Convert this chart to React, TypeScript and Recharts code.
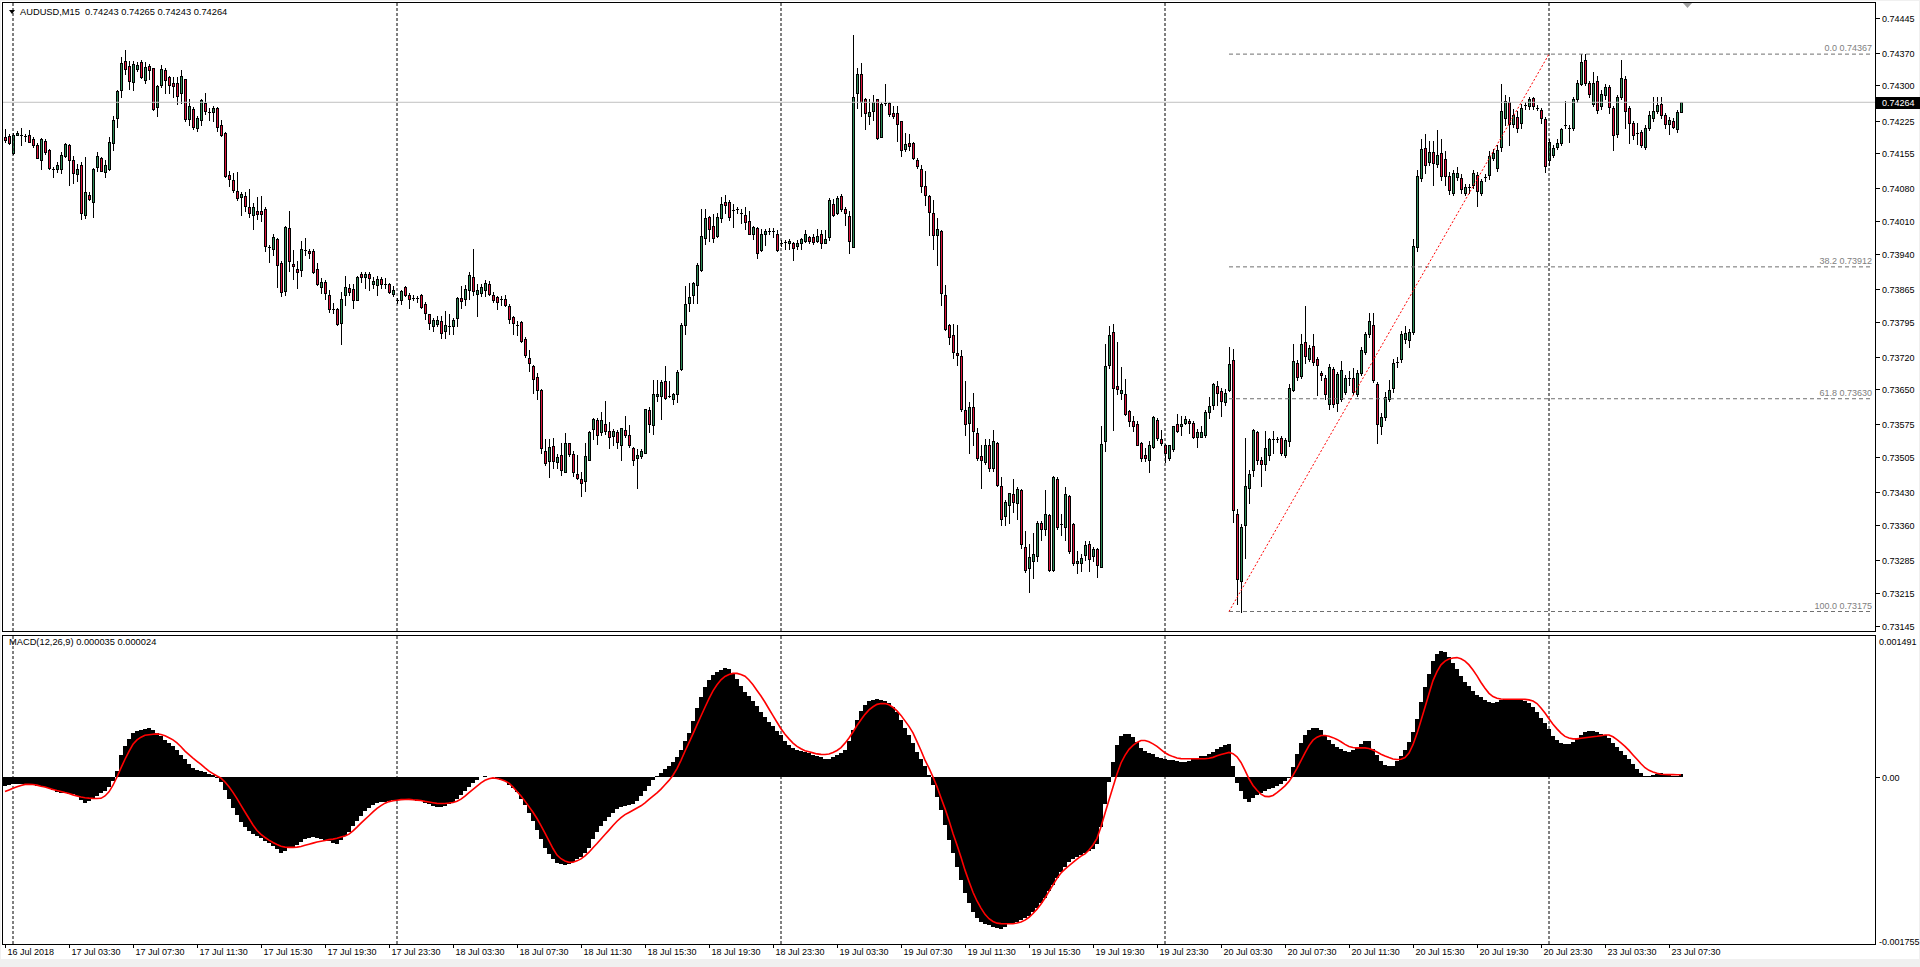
import React from 'react';
import { ComposedChart, Bar, Line, XAxis, YAxis, ReferenceLine } from 'recharts';

// ---------- DATA (prices in points of 0.00001, MACD in units of 0.000001) ----------
const OPEN = [
74190,74192,74156,74194,74194,74192,74193,74186,74172,74141,74182,74163,74121,74121,74122,74149,74172,74140,74110,74129,
74023,74065,74051,74125,74144,74115,74122,74176,74231,74291,74352,74342,74307,74335,74350,74312,74341,74337,74253,74301,
74332,74317,74305,74305,74284,74313,74229,74250,74209,74226,74263,74244,74243,74252,74215,74199,74108,74098,74075,74062,
74064,74040,74023,74032,74032,74036,73955,73951,73972,73921,73861,73996,73919,73908,73906,73948,73946,73946,73908,73869,
73879,73851,73821,73822,73791,73851,73867,73864,73842,73896,73890,73896,73875,73874,73885,73876,73875,73855,73842,73841,
73870,73852,73844,73846,73852,73833,73811,73785,73789,73797,73775,73785,73785,73802,73845,73844,73862,73890,73854,73857,
73863,73875,73852,73847,73842,73843,73829,73805,73788,73795,73757,73718,73701,73676,73648,73518,73497,73528,73494,73509,
73474,73535,73512,73468,73458,73454,73500,73566,73585,73558,73577,73562,73550,73558,73531,73563,73552,73525,73503,73507,
73515,73605,73574,73636,73636,73669,73634,73630,73640,73693,73787,73834,73851,73874,73906,73973,74018,74000,73978,74016,
74050,74050,74031,74035,74028,74023,74010,73983,73996,73949,73982,73988,73988,73983,73964,73966,73962,73962,73957,73964,
73967,73976,73976,73968,73983,73964,73975,74047,74027,74064,74035,74021,73955,74283,74324,74272,74234,74245,74271,74190,
74261,74262,74241,74240,74223,74165,74176,74176,74140,74122,74086,74064,74027,73980,73988,73851,73787,73767,73728,73721,
73605,73579,73612,73556,73507,73495,73530,73482,73536,73443,73380,73402,73427,73407,73435,73312,73268,73284,73294,73365,
73351,73382,73263,73459,73359,73355,73421,73363,73278,73278,73296,73320,73294,73309,73271,73540,73702,73773,73658,73642,
73640,73604,73582,73577,73536,73509,73500,73527,73585,73544,73530,73503,73522,73575,73572,73579,73582,73579,73548,73549,
73552,73601,73617,73658,73646,73622,73648,73713,73383,73240,73360,73440,73477,73559,73500,73490,73510,73541,73543,73545,
73510,73539,73649,73706,73678,73751,73716,73743,73716,73684,73675,73618,73693,73620,73629,73645,73673,73675,73641,73686,
73731,73768,73787,73661,73571,73592,73629,73653,73706,73714,73757,73755,73772,73954,74101,74166,74136,74158,74132,74155,
74142,74107,74070,74104,74101,74071,74083,74087,74108,74071,74101,74109,74144,74124,74169,74230,74265,74218,74232,74220,
74256,74255,74273,74252,74247,74229,74140,74152,74169,74177,74214,74208,74210,74271,74304,74355,74306,74261,74310,74256,
74279,74296,74251,74197,74275,74314,74251,74220,74197,74201,74169,74210,74230,74245,74261,74237,74218,74225,74207,74243];

const HIGH = [
74207,74196,74199,74203,74208,74196,74204,74190,74176,74188,74185,74165,74125,74137,74158,74176,74174,74149,74131,74136,
74147,74072,74124,74158,74148,74141,74190,74235,74290,74360,74376,74352,74352,74350,74354,74350,74346,74338,74300,74343,
74338,74321,74317,74317,74334,74314,74272,74253,74235,74272,74283,74252,74256,74253,74227,74200,74117,74113,74114,74073,
74073,74078,74049,74062,74064,74041,73959,73982,73974,73924,74000,74032,73949,73924,73967,73973,73951,73951,73920,73888,
73883,73863,73834,73823,73859,73892,73875,73875,73892,73900,73901,73900,73890,73892,73890,73888,73877,73871,73845,73863,
73872,73857,73852,73849,73854,73836,73812,73803,73806,73808,73818,73811,73802,73847,73871,73873,73900,73951,73875,73875,
73883,73881,73859,73849,73849,73851,73833,73808,73797,73796,73761,73734,73702,73685,73650,73544,73544,73546,73511,73536,
73556,73536,73519,73509,73473,73536,73560,73589,73589,73601,73626,73581,73566,73564,73568,73593,73574,73527,73523,73523,
73608,73613,73671,73671,73671,73700,73667,73642,73691,73793,73871,73877,73879,73920,74035,74035,74021,74024,74027,74062,
74065,74055,74047,74039,74035,74041,74031,74000,73998,73994,73994,73996,73996,73990,73969,73969,73972,73965,73969,73973,
73990,73978,73982,73994,73990,73991,74059,74057,74064,74068,74039,74031,74407,74338,74348,74273,74272,74280,74272,74264,
74303,74264,74256,74255,74224,74199,74196,74178,74144,74129,74116,74065,74055,74016,73990,73873,73789,73789,73787,73734,
73667,73623,73642,73568,73532,73544,73544,73563,73537,73462,73413,73429,73459,73441,73436,73347,73320,73343,73368,73368,
73435,73384,73464,73462,73384,73441,73425,73364,73304,73298,73325,73325,73312,73310,73571,73748,73785,73789,73752,73697,
73672,73605,73593,73582,73538,73525,73540,73593,73589,73564,73533,73531,73572,73597,73593,73593,73587,73582,73566,73571,
73605,73634,73664,73667,73654,73650,73740,73737,73395,73363,73547,73477,73565,73561,73506,73561,73547,73561,73548,73550,
73547,73661,73747,73712,73768,73829,73745,73769,73720,73690,73680,73705,73698,73688,73710,73680,73690,73695,73692,73740,
73772,73813,73813,73665,73600,73645,73670,73715,73720,73775,73785,73780,73972,74120,74185,74197,74181,74181,74204,74185,
74160,74115,74120,74125,74110,74090,74090,74120,74115,74100,74110,74160,74165,74173,74304,74279,74275,74250,74245,74260,
74265,74275,74275,74258,74252,74232,74185,74172,74185,74210,74267,74215,74276,74312,74367,74367,74310,74328,74320,74290,
74303,74300,74255,74280,74355,74320,74255,74225,74220,74205,74215,74245,74275,74275,74275,74240,74232,74230,74248,74265];

const LOW = [
74180,74174,74154,74193,74172,74182,74178,74168,74144,74121,74154,74121,74104,74114,74113,74147,74088,74092,74096,74014,
74016,74055,74018,74117,74116,74104,74120,74162,74211,74276,74325,74293,74291,74330,74316,74305,74313,74248,74235,74297,
74283,74283,74276,74260,74262,74223,74215,74207,74203,74215,74239,74226,74223,74203,74192,74105,74086,74073,74055,74023,
74031,74018,73994,74014,74010,73945,73923,73937,73870,73849,73852,73904,73885,73867,73893,73937,73931,73898,73874,73857,
73844,73816,73814,73788,73748,73830,73851,73825,73841,73879,73867,73863,73867,73852,73867,73867,73857,73849,73834,73833,
73849,73825,73841,73836,73825,73800,73780,73775,73785,73759,73759,73769,73769,73785,73825,73830,73844,73851,73808,73849,
73849,73852,73836,73822,73830,73828,73793,73769,73767,73751,73720,73689,73642,73630,73515,73489,73462,73482,73482,73466,
73473,73507,73464,73459,73423,73433,73499,73544,73533,73552,73554,73525,73530,73525,73499,73548,73527,73489,73440,73503,
73513,73558,73554,73626,73586,73630,73633,73618,73623,73691,73769,73818,73834,73834,73904,73961,73967,73965,73975,74008,
74028,74013,73998,74027,74006,73994,73982,73972,73931,73947,73959,73982,73975,73947,73957,73951,73951,73927,73951,73951,
73965,73964,73960,73965,73952,73963,73969,74021,74024,74031,74002,73942,73954,74252,74235,74207,74217,74227,74185,74189,
74258,74235,74231,74182,74149,74160,74162,74143,74124,74072,74045,73980,73951,73916,73830,73777,73748,73718,73703,73604,
73552,73513,73532,73500,73440,73491,73476,73476,73443,73360,73361,73364,73388,73372,73310,73260,73216,73247,73284,73327,
73339,73261,73261,73351,73339,73327,73301,73274,73257,73261,73286,73261,73282,73249,73270,73519,73695,73564,73640,73630,
73596,73571,73560,73530,73497,73497,73473,73525,73542,73532,73495,73500,73519,73558,73552,73577,73556,73546,73527,73548,
73548,73589,73609,73617,73593,73617,73646,73367,73191,73175,73289,73408,73465,73490,73444,73477,73498,73514,73538,73510,
73505,73528,73647,73670,73675,73706,73710,73702,73637,73670,73630,73608,73612,73604,73625,73640,73660,73640,73636,73680,
73725,73762,73665,73536,73555,73585,73625,73645,73698,73708,73750,73740,73768,73945,74095,74112,74130,74087,74125,74098,
74088,74068,74065,74098,74070,74065,74070,74080,74042,74065,74095,74100,74140,74118,74160,74215,74173,74212,74200,74210,
74250,74250,74250,74248,74220,74114,74130,74148,74165,74172,74210,74180,74205,74265,74300,74300,74275,74255,74240,74250,
74272,74242,74163,74190,74270,74210,74177,74185,74175,74168,74165,74205,74225,74240,74230,74210,74196,74208,74200,74243];

const CLOSE = [
74184,74176,74194,74199,74191,74191,74180,74172,74145,74185,74158,74124,74119,74129,74152,74174,74140,74113,74122,74027,
74072,74058,74122,74149,74118,74129,74178,74226,74288,74348,74335,74309,74346,74343,74319,74339,74334,74249,74299,74336,
74311,74301,74299,74278,74320,74229,74255,74212,74230,74268,74245,74240,74252,74212,74193,74106,74100,74077,74059,74068,
74043,74027,74039,74024,74024,73957,73953,73975,73916,73859,73998,73924,73913,73901,73951,73946,73942,73902,73875,73879,
73856,73822,73820,73789,73844,73870,73859,73841,73890,73890,73896,73888,73882,73887,73875,73875,73859,73863,73839,73861,
73852,73844,73846,73843,73826,73813,73791,73799,73798,73770,73787,73783,73798,73845,73838,73865,73895,73861,73862,73869,
73877,73854,73841,73836,73843,73830,73800,73793,73787,73754,73724,73707,73672,73648,73525,73492,73527,73497,73505,73478,
73536,73511,73474,73461,73450,73507,73558,73587,73552,73585,73560,73548,73560,73538,73567,73552,73530,73499,73509,73519,
73607,73577,73640,73640,73666,73631,73636,73640,73687,73787,73832,73847,73877,73916,73978,74016,73994,73973,74018,74047,
74045,74018,74033,74036,74027,74008,73983,73998,73941,73982,73989,73989,73987,73949,73964,73965,73967,73953,73962,73971,
73982,73967,73965,73978,73964,73972,74054,74023,74059,74035,74027,73967,74275,74324,74264,74242,74244,74264,74188,74260,
74263,74239,74234,74217,74162,74174,74170,74144,74127,74086,74065,74029,73980,73994,73857,73779,73761,73731,73723,73607,
73576,73613,73560,73503,73500,73530,73482,73540,73446,73372,73409,73428,73410,73437,73319,73263,73291,73299,73365,73351,
73384,73263,73462,73355,73363,73427,73304,73278,73283,73290,73317,73288,73309,73274,73533,73699,73767,73653,73650,73648,
73597,73582,73571,73532,73503,73503,73532,73590,73546,73536,73515,73530,73571,73560,73577,73587,73579,73549,73558,73558,
73601,73615,73661,73642,73626,73642,73705,73391,73244,73356,73444,73469,73563,73498,73490,73525,73543,73543,73544,73514,
73541,73652,73710,73676,73746,73721,73738,73708,73702,73680,73641,73697,73618,73682,73692,73675,73674,73645,73686,73735,
73768,73796,73670,73577,73592,73634,73649,73706,73708,73768,73770,73772,73956,74107,74165,74130,74157,74134,74152,74106,
74107,74076,74112,74112,74079,74083,74083,74112,74075,74095,74104,74150,74155,74163,74245,74267,74218,74237,74210,74251,
74259,74270,74255,74251,74230,74128,74180,74166,74177,74206,74216,74208,74271,74306,74351,74306,74281,74306,74248,74281,
74297,74253,74193,74275,74316,74245,74220,74193,74198,74173,74210,74237,74245,74259,74237,74218,74226,74212,74243,74264];

const MACD_MAIN = [
-99,-85,-71,-71,-71,-72,-77,-83,-91,-97,-103,-114,-142,-156,-166,-176,-178,-184,-207,-248,
-278,-255,-228,-200,-176,-147,-108,-39,66,239,333,408,468,491,506,517,523,502,470,434,
400,363,328,284,236,189,142,101,77,62,49,32,17,-7,-58,-142,-239,-333,-408,-478,
-536,-577,-610,-633,-657,-681,-704,-736,-774,-814,-793,-760,-749,-728,-700,-665,-648,-642,-654,-662,
-672,-688,-710,-717,-678,-636,-588,-529,-470,-413,-366,-328,-297,-281,-271,-263,-252,-245,-241,-241,
-241,-242,-248,-252,-260,-274,-290,-305,-317,-320,-314,-290,-266,-236,-189,-151,-111,-64,-27,1,
6,4,-3,-15,-27,-46,-81,-115,-161,-232,-302,-380,-474,-568,-665,-758,-826,-881,-920,-935,
-938,-926,-906,-882,-858,-817,-755,-662,-586,-519,-473,-427,-381,-345,-325,-311,-304,-284,-253,-206,
-151,-91,-32,9,46,81,116,158,217,293,381,474,604,742,860,959,1042,1089,1122,1147,
1161,1150,1117,1046,976,910,863,817,762,692,640,591,544,497,446,387,347,314,290,275,
263,252,240,227,210,196,190,209,231,259,294,382,499,611,701,773,809,826,831,820,
808,790,754,693,613,520,444,365,272,195,116,23,-89,-216,-357,-515,-677,-818,-958,-1103,
-1244,-1349,-1439,-1510,-1548,-1573,-1588,-1604,-1619,-1630,-1606,-1577,-1565,-1548,-1530,-1513,-1482,-1442,-1396,-1350,
-1295,-1224,-1153,-1081,-1011,-958,-913,-878,-852,-830,-814,-796,-768,-721,-532,-291,-57,160,345,440,
465,461,433,373,310,275,258,243,219,204,193,187,178,168,162,165,174,191,208,222,
229,249,272,296,320,340,352,120,-60,-150,-231,-271,-224,-196,-172,-148,-133,-118,-95,-71,
-46,-8,107,245,363,444,502,521,520,499,440,391,349,326,302,281,269,293,326,349,
381,386,302,231,168,133,116,120,167,222,288,371,480,619,807,958,1103,1244,1317,1352,
1335,1287,1224,1153,1083,1016,970,924,882,858,826,797,790,803,820,831,834,834,834,826,
811,787,746,694,635,576,513,443,400,368,352,355,374,416,452,482,494,488,476,465,
444,413,366,320,274,239,196,144,85,45,16,9,18,31,41,36,24,10,10,35];

const MACD_SIGNAL = [
-156,-138,-120,-105,-90,-79,-79,-80,-87,-98,-106,-120,-133,-145,-155,-166,-176,-191,-203,-214,
-222,-226,-229,-230,-228,-203,-159,-88,0,97,190,275,350,397,426,446,452,458,461,455,
440,420,397,364,324,277,240,203,168,134,97,62,36,11,-12,-53,-105,-164,-231,-303,
-374,-444,-513,-572,-613,-647,-675,-700,-722,-741,-750,-753,-753,-750,-743,-731,-719,-707,-695,-687,
-680,-670,-664,-656,-642,-630,-611,-576,-536,-493,-454,-414,-373,-336,-306,-280,-263,-254,-248,-242,
-240,-239,-244,-247,-252,-261,-268,-275,-282,-284,-283,-278,-272,-260,-237,-205,-168,-133,-98,-63,
-35,-18,-9,-16,-27,-42,-65,-107,-155,-202,-258,-318,-377,-444,-519,-601,-684,-765,-835,-874,
-899,-913,-911,-897,-876,-844,-804,-757,-711,-662,-615,-568,-519,-473,-435,-402,-379,-355,-331,-308,
-276,-239,-204,-169,-129,-82,-36,19,90,178,275,368,462,558,652,746,839,921,986,1040,
1075,1096,1108,1108,1096,1078,1038,986,925,866,799,727,656,586,516,458,408,363,328,302,
281,269,258,247,242,241,246,262,284,315,362,417,481,551,613,670,717,751,777,786,
785,773,745,707,659,600,542,472,378,284,181,94,0,-103,-221,-338,-464,-605,-728,-857,
-996,-1118,-1233,-1326,-1402,-1469,-1516,-1545,-1563,-1568,-1569,-1569,-1569,-1562,-1550,-1531,-1500,-1460,-1413,-1358,
-1294,-1224,-1153,-1084,-1026,-985,-949,-914,-878,-846,-823,-781,-727,-656,-532,-388,-247,-107,32,150,
231,296,338,370,391,391,377,354,327,293,259,236,218,204,197,195,195,195,195,195,
195,200,210,227,240,252,263,249,215,156,71,-19,-90,-142,-184,-207,-210,-198,-167,-133,
-95,-47,18,93,175,258,336,394,426,444,444,435,421,402,377,349,326,316,312,312,
311,305,288,267,244,225,208,193,187,190,208,255,346,464,605,746,890,1031,1127,1200,
1240,1261,1272,1277,1264,1239,1199,1145,1081,1011,950,895,860,843,834,831,831,831,831,831,
830,825,812,786,739,684,623,564,515,470,434,417,408,408,414,420,425,430,435,442,
449,449,430,400,364,328,285,236,189,142,99,71,54,40,30,26,25,25,24,24];

const TIME_LABELS = [
'16 Jul 2018','17 Jul 03:30','17 Jul 07:30','17 Jul 11:30','17 Jul 15:30','17 Jul 19:30','17 Jul 23:30',
'18 Jul 03:30','18 Jul 07:30','18 Jul 11:30','18 Jul 15:30','18 Jul 19:30','18 Jul 23:30',
'19 Jul 03:30','19 Jul 07:30','19 Jul 11:30','19 Jul 15:30','19 Jul 19:30','19 Jul 23:30',
'20 Jul 03:30','20 Jul 07:30','20 Jul 11:30','20 Jul 15:30','20 Jul 19:30','20 Jul 23:30',
'23 Jul 03:30','23 Jul 07:30'];
const TIME_LABEL_STEP = 16;

const PRICE_TICKS = [0.74445,0.74370,0.74300,0.74225,0.74155,0.74080,0.74010,0.73940,0.73865,0.73795,
  0.73720,0.73650,0.73575,0.73505,0.73430,0.73360,0.73285,0.73215,0.73145];
const LAST_PRICE = 0.74264;
const PRICE_DOMAIN = [0.731333, 0.744763];

const FIB_PERCENTS = ['0.0','38.2','61.8','100.0'];
const FIB_PRICES = [0.74367, 0.73912, 0.73630, 0.73175];
const FIB_START_BAR = 306;
const TREND_BARS = [306, 386];
const TREND_PRICES = [0.73175, 0.74367];

const DAY_SEPARATORS = [2, 98, 194, 290, 386];
const TOTAL_SLOTS = 468;

const MACD_TICKS = [0.001491, 0, -0.001755];
const MACD_TICK_LABELS = ['0.001491', '0.00', '-0.001755'];
const MACD_DOMAIN = [-0.001786, 0.001508];

const HEADER = 'AUDUSD,M15  0.74243 0.74265 0.74243 0.74264';
const MACD_HEADER = 'MACD(12,26,9) 0.000035 0.000024';

// ---------- TABLE ----------
const rows = Array.from({ length: TOTAL_SLOTS }, (_, i) => {
  if (i < OPEN.length) {
    const o = OPEN[i] / 1e5, h = HIGH[i] / 1e5, l = LOW[i] / 1e5, c = CLOSE[i] / 1e5;
    const hi = Math.max(h, o, c), lo = Math.min(l, o, c);
    return { i, o, c, hi, lo, range: [lo, hi], hist: MACD_MAIN[i] / 1e6, signal: MACD_SIGNAL[i] / 1e6 };
  }
  return { i };
});

const FONT = '"Liberation Sans", Arial, sans-serif';
const BULL = '#2e8b57';
const BEAR = '#dc143c';

function Candle(props: any) {
  const { x, y, width, height, payload } = props;
  if (!payload || payload.o == null) return null;
  const top = Math.min(y, y + height);
  const bot = Math.max(y, y + height);
  const span = payload.hi - payload.lo;
  const py = (p: number) => (span > 0 ? top + ((payload.hi - p) / span) * (bot - top) : top);
  const cx = Math.floor(x + width / 2);
  const wx = cx + 0.5;
  const yh = Math.round(py(payload.hi));
  const yl = Math.round(py(payload.lo));
  const bull = payload.c >= payload.o;
  const yTop = Math.round(py(Math.max(payload.o, payload.c)));
  const yBot = Math.round(py(Math.min(payload.o, payload.c)));
  return (
    <g shapeRendering="crispEdges">
      <line x1={wx} x2={wx} y1={yh} y2={yl + 1} stroke="#000" strokeWidth={1} />
      {yBot - yTop < 2 ? (
        <line x1={cx - 1} x2={cx + 2} y1={yTop + 0.5} y2={yTop + 0.5} stroke="#000" strokeWidth={1} />
      ) : (
        <rect x={cx - 0.5} y={yTop + 0.5} width={2} height={yBot - yTop} fill={bull ? BULL : BEAR} stroke="#000" strokeWidth={1} />
      )}
    </g>
  );
}

function PriceTick(props: any) {
  const { x, y, payload } = props;
  const v = payload.value;
  const ry = Math.round(y);
  const axisX = x - 7;
  if (Math.abs(v - LAST_PRICE) < 1e-7) {
    return (
      <g>
        <rect x={axisX + 1} y={ry - 5} width={44} height={12} fill="#000" />
        <text x={x} y={ry + 1} dy="0.33em" fill="#fff" fontSize={9} fontFamily={FONT}>{v.toFixed(5)}</text>
      </g>
    );
  }
  return (
    <g>
      <line x1={axisX + 1} x2={axisX + 5} y1={ry + 0.5} y2={ry + 0.5} stroke="#000" shapeRendering="crispEdges" />
      <text x={x} y={ry + 1} dy="0.33em" fill="#000" fontSize={9} fontFamily={FONT}>{v.toFixed(5)}</text>
    </g>
  );
}

function MacdTick(props: any) {
  const { x, y, payload, index } = props;
  const ry = Math.round(y);
  const axisX = x - 7;
  const k = MACD_TICKS.indexOf(payload.value);
  const label = k >= 0 ? MACD_TICK_LABELS[k] : String(payload.value);
  const shift = k === 0 ? 3 : k === 2 ? 0 : 0;
  return (
    <g>
      {k === 1 && <line x1={axisX + 1} x2={axisX + 5} y1={ry + 0.5} y2={ry + 0.5} stroke="#000" shapeRendering="crispEdges" />}
      <text x={k === 1 ? x : x - 3} y={ry + 1 + shift} dy="0.33em" fill="#000" fontSize={9} fontFamily={FONT}>{label}</text>
    </g>
  );
}

function TimeTick(props: any) {
  const { x, y, payload } = props;
  const k = Math.round(payload.value / TIME_LABEL_STEP);
  const rx = Math.floor(x) + 0.5;
  return (
    <g>
      <line x1={rx} x2={rx} y1={y - 4} y2={y} stroke="#000" shapeRendering="crispEdges" />
      <text x={rx + 2} y={y + 7} fill="#000" fontSize={9} fontFamily={FONT}>{TIME_LABELS[k]}</text>
    </g>
  );
}

function FibLabel(text: string) {
  return (props: any) => {
    const vb = props.viewBox || {};
    const right = (vb.x || 0) + (vb.width || 0);
    return (
      <text x={right - 1} y={(vb.y || 0) - 3} textAnchor="end" fill="#808080" fontSize={9} fontFamily={FONT}>{text}</text>
    );
  };
}

export default function App() {
  const timeTicks = TIME_LABELS.map((_, k) => k * TIME_LABEL_STEP);
  return (
    <div style={{ position: 'absolute', left: 0, top: 0, width: 1920, height: 967, background: '#f0f0f0', overflow: 'hidden' }}>
      <div style={{ position: 'absolute', left: 1, top: 1, width: 1918, height: 958, background: '#fff' }} />
      {/* main price chart */}
      <div style={{ position: 'absolute', left: 0, top: 0 }}>
        <ComposedChart width={1920} height={634} data={rows} margin={{ top: 3, right: 0, left: 3, bottom: 3 }} barCategoryGap={0} barGap={0}>
          <XAxis dataKey="i" type="category" hide height={0} />
          <YAxis orientation="right" type="number" width={45} domain={PRICE_DOMAIN} allowDataOverflow
            ticks={[...PRICE_TICKS, LAST_PRICE]} interval={0} tick={<PriceTick />} tickSize={4} tickMargin={3}
            axisLine={false} tickLine={false} />
          {DAY_SEPARATORS.map((b) => (
            <ReferenceLine key={'d' + b} x={b} stroke="#000" strokeDasharray="3 2" ifOverflow="extendDomain" />
          ))}
          <ReferenceLine y={LAST_PRICE} stroke="#c0c0c0" />
          {FIB_PRICES.map((p, k) => (
            <ReferenceLine key={'f' + k}
              segment={[{ x: FIB_START_BAR, y: p }, { x: TOTAL_SLOTS - 1, y: p }]}
              stroke="#707070" strokeDasharray="4 3"
              label={FibLabel(FIB_PERCENTS[k] + ' ' + p.toFixed(5))} />
          ))}
          <ReferenceLine segment={[{ x: TREND_BARS[0], y: TREND_PRICES[0] }, { x: TREND_BARS[1], y: TREND_PRICES[1] }]}
            stroke="#ff0000" strokeDasharray="2 2" />
          <Bar dataKey="range" shape={<Candle />} isAnimationActive={false} />
        </ComposedChart>
      </div>
      {/* MACD */}
      <div style={{ position: 'absolute', left: 0, top: 634 }}>
        <ComposedChart width={1920} height={330} data={rows} margin={{ top: 2, right: 0, left: 3, bottom: 0 }} barCategoryGap={0} barGap={0}>
          <XAxis dataKey="i" type="category" height={20} ticks={timeTicks} interval={0} tick={<TimeTick />}
            tickSize={4} tickMargin={0} axisLine={false} tickLine={false} />
          <YAxis orientation="right" type="number" width={45} domain={MACD_DOMAIN} allowDataOverflow
            ticks={MACD_TICKS} interval={0} tick={<MacdTick />} tickSize={4} tickMargin={3}
            axisLine={false} tickLine={false} />
          {DAY_SEPARATORS.map((b) => (
            <ReferenceLine key={'m' + b} x={b} stroke="#000" strokeDasharray="3 2" />
          ))}
          <Bar dataKey="hist" fill="#000" isAnimationActive={false} shape={(p: any) => (
            <rect x={p.x} y={Math.min(p.y, p.y + p.height)} width={p.width} height={Math.abs(p.height)} fill="#000" shapeRendering="crispEdges" />
          )} />
          <Line dataKey="signal" type="linear" stroke="#ff0000" strokeWidth={1.6} dot={false} isAnimationActive={false} />
        </ComposedChart>
      </div>
      {/* panel frames */}
      <div style={{ position: 'absolute', left: 2, top: 2, width: 1874, height: 630, border: '1px solid #000', boxSizing: 'border-box', pointerEvents: 'none' }} />
      <div style={{ position: 'absolute', left: 2, top: 635, width: 1874, height: 310, border: '1px solid #000', boxSizing: 'border-box', pointerEvents: 'none' }} />
      {/* headers */}
      <svg style={{ position: 'absolute', left: 0, top: 0 }} width={30} height={20}>
        <polygon points="9,10 15,10 12,14" fill="#000" />
      </svg>
      <svg style={{ position: 'absolute', left: 1683, top: 2 }} width={10} height={8}>
        <polygon points="0,1 9,1 4.5,6" fill="#a0a0a0" />
      </svg>
      <div style={{ position: 'absolute', left: 20, top: 6, fontSize: 9.3, fontFamily: FONT, color: '#000', whiteSpace: 'pre', lineHeight: '12px' }}>{HEADER}</div>
      <div style={{ position: 'absolute', left: 9, top: 636, fontSize: 9.3, fontFamily: FONT, color: '#000', whiteSpace: 'pre', lineHeight: '12px' }}>{MACD_HEADER}</div>
    </div>
  );
}
